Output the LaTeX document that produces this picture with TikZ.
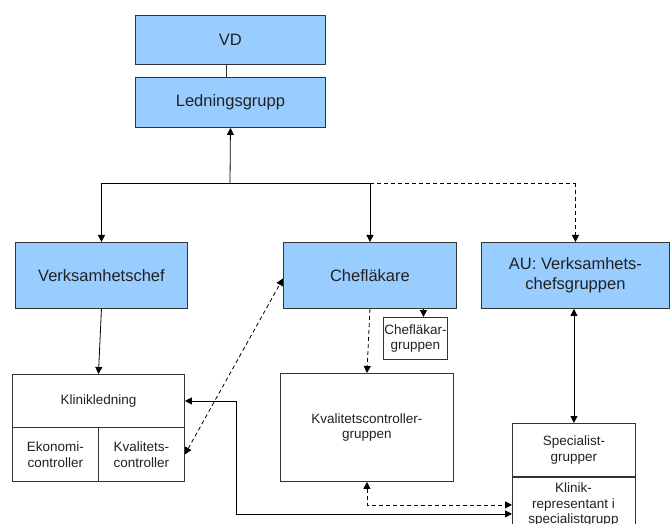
\documentclass[tikz,border=0pt]{standalone}
\usepackage{fontspec}
\setmainfont{Liberation Sans}
\usetikzlibrary{arrows.meta}
\definecolor{boxblue}{HTML}{99CCFF}
\definecolor{edge}{HTML}{333333}
\definecolor{txt}{HTML}{222222}
\tikzset{
  box/.style={draw=edge, line width=0.9pt, rectangle, anchor=north west, inner sep=0pt, align=center, text=txt},
  bluebox/.style={box, fill=boxblue, font=\fontsize{16.5}{20}\selectfont},
  whitebox/.style={box, fill=white, font=\fontsize{13.5}{15.5}\selectfont},
  conn/.style={draw=black, line width=0.8pt},
  arr/.style={conn, -{Triangle[length=7pt,width=7pt]}},
  darr/.style={conn, {Triangle[length=7pt,width=7pt]}-{Triangle[length=7pt,width=7pt]}},
  dashline/.style={dash pattern=on 4pt off 3pt}
}
\begin{document}
\begin{tikzpicture}[x=1pt,y=-1pt]
\useasboundingbox (0,0) rectangle (670,524);
\begin{scope}
\clip (0,0) rectangle (670,524);
% blue boxes
\node[bluebox, minimum width=190pt, minimum height=49pt] (vd) at (135,15) {VD};
\node[bluebox, minimum width=190pt, minimum height=50pt] (lg) at (135,77) {Ledningsgrupp};
\node[bluebox, minimum width=172pt, minimum height=66pt] (vc) at (15,242) {Verksamhetschef};
\node[bluebox, minimum width=173pt, minimum height=66pt] (cl) at (283,242) {Chefläkare};
\node[bluebox, minimum width=188pt, minimum height=66pt] (au) at (481,242) {AU: Verksamhets-\\chefsgruppen};
% white boxes
\node[whitebox, minimum width=172pt, minimum height=53pt] (klin) at (12,374) {Klinikledning};
\node[whitebox, minimum width=86pt, minimum height=54pt] (eko) at (12,427) {Ekonomi-\\controller};
\node[whitebox, minimum width=86pt, minimum height=54pt] (kval) at (98,427) {Kvalitets-\\controller};
\node[whitebox, minimum width=64pt, minimum height=42pt] (clg) at (383,317) {Chefläkar-\\gruppen};
\node[whitebox, minimum width=173pt, minimum height=108pt] (kcg) at (280,373) {Kvalitetscontroller-\\gruppen};
\node[whitebox, minimum width=123pt, minimum height=53pt] (spec) at (512,423) {Specialist-\\grupper};
\node[whitebox, minimum width=123pt, minimum height=72pt, anchor=north] (klinrep) at (spec.south) {};
\node[font=\fontsize{13.5}{15.5}\selectfont, text=txt, align=center, anchor=north, inner sep=0pt] (klinreptxt) at (573.5,483) {Klinik-\\representant i\\specialistgrupp};
% connectors
\draw[conn, draw=edge] ([xshift=-4pt]vd.south) -- ([xshift=-4pt]lg.north);
\coordinate (j) at (230,183);
\coordinate (jl) at (vc.north |- j);
\coordinate (jc) at (cl.north |- j);
\coordinate (jr) at (au.north |- j);
\draw[arr] (j) -- (lg.south);
\draw[conn] (jl) -- (jc);
\draw[conn, dashline] (jc) -- (jr);
\draw[arr] (jl) -- (vc.north);
\draw[arr] (jc) -- (cl.north);
\draw[arr, dashline] (jr) -- (au.north);
\draw[arr] (vc.south) -- (klin.north);
\draw[darr, dashline] (kval.east) -- ([yshift=-3pt]cl.west);
\coordinate (clgin) at ([xshift=8pt]clg.north);
\draw[arr] (cl.south -| clgin) -- (clgin);
\draw[arr, dashline] (cl.south) -- (kcg.north);
\draw[darr, dashline] (kcg.south) |- ([yshift=-28pt]klinrep.north west);
\draw[darr] (klin.east) -- ++(51,0) |- ([yshift=-37pt]klinrep.north west);
\draw[darr] (spec.north |- au.south) -- (spec.north);
\end{scope}
\end{tikzpicture}
\end{document}
